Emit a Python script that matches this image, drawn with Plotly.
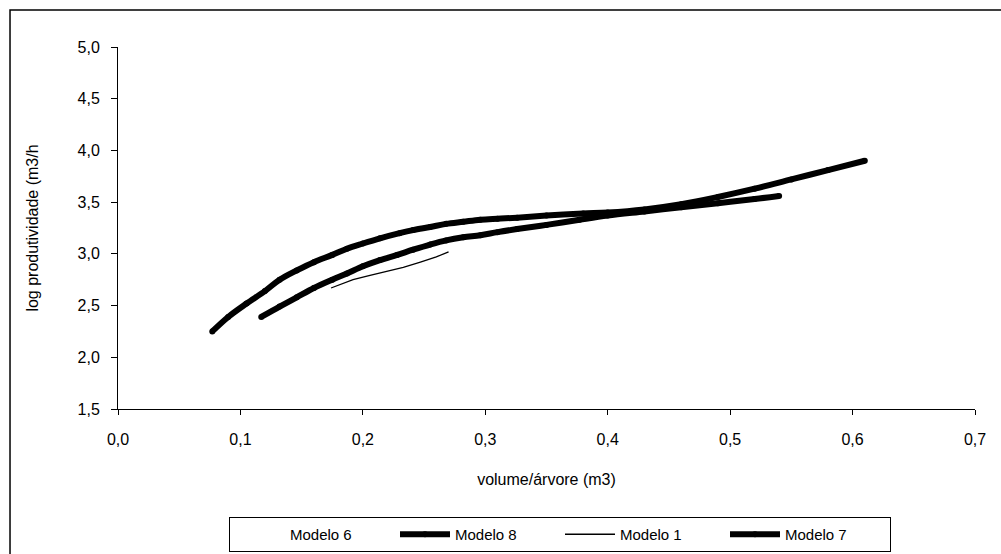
import plotly.graph_objects as go

# ---- data ----
m8_x = [0.077, 0.090, 0.105, 0.120, 0.132, 0.146, 0.160, 0.175, 0.187, 0.200, 0.214, 0.230,
        0.241, 0.255, 0.268, 0.282, 0.296, 0.310, 0.326, 0.350, 0.380, 0.400, 0.430, 0.460,
        0.490, 0.520, 0.550, 0.580, 0.610]
m8_y = [2.25, 2.39, 2.52, 2.64, 2.75, 2.84, 2.92, 2.99, 3.05, 3.10, 3.15, 3.20,
        3.23, 3.26, 3.29, 3.31, 3.33, 3.34, 3.35, 3.37, 3.39, 3.40, 3.43, 3.48,
        3.55, 3.63, 3.72, 3.81, 3.90]

m7_x = [0.117, 0.132, 0.146, 0.160, 0.175, 0.187, 0.200, 0.214, 0.228, 0.241, 0.255, 0.268,
        0.282, 0.296, 0.310, 0.326, 0.350, 0.377, 0.400, 0.430, 0.460, 0.490, 0.520, 0.540]
m7_y = [2.39, 2.49, 2.58, 2.67, 2.75, 2.81, 2.88, 2.94, 2.99, 3.04, 3.09, 3.13,
        3.16, 3.18, 3.21, 3.24, 3.28, 3.33, 3.37, 3.41, 3.45, 3.49, 3.53, 3.56]

m1_x = [0.174, 0.183, 0.192, 0.205, 0.219, 0.233, 0.247, 0.260, 0.270]
m1_y = [2.67, 2.71, 2.75, 2.79, 2.83, 2.87, 2.92, 2.97, 3.02]

x_ticks = [0.0, 0.1, 0.2, 0.3, 0.4, 0.5, 0.6, 0.7]
y_ticks = [1.5, 2.0, 2.5, 3.0, 3.5, 4.0, 4.5, 5.0]

FONT = "Arial, Liberation Sans, sans-serif"

fig = go.Figure()
fig.add_trace(go.Scatter(x=[None], y=[None], mode="lines", name="Modelo 6",
                         line=dict(color="rgba(255,255,255,0)", width=1)))
fig.add_trace(go.Scatter(x=m8_x, y=m8_y, mode="lines+markers", name="Modelo 8",
                         line=dict(color="black", width=6, shape="spline"),
                         marker=dict(color="black", size=6, symbol="circle")))
fig.add_trace(go.Scatter(x=m1_x, y=m1_y, mode="lines", name="Modelo 1",
                         line=dict(color="black", width=1.3)))
fig.add_trace(go.Scatter(x=m7_x, y=m7_y, mode="lines+markers", name="Modelo 7",
                         line=dict(color="black", width=6, shape="spline"),
                         marker=dict(color="black", size=6, symbol="circle")))

fig.update_layout(
    width=1001, height=554,
    margin=dict(l=118, r=26, t=47, b=145),
    paper_bgcolor="white", plot_bgcolor="white",
    separators=",.",
    font=dict(family=FONT, size=16, color="black"),
    showlegend=True,
    legend=dict(orientation="h", xref="container", yref="container",
                x=229 / 1001, xanchor="left", y=1 - 517 / 554, yanchor="top",
                bordercolor="black", borderwidth=1, bgcolor="white",
                font=dict(family=FONT, size=15, color="black"),
                itemwidth=50, entrywidth=100, tracegroupgap=0,
                itemclick=False),
    xaxis=dict(range=[0, 0.7], tickvals=x_ticks, tickformat=".1f",
               showgrid=False, zeroline=False, showline=True, linecolor="black",
               linewidth=1, ticks="outside", ticklen=5, tickcolor="black",
               ticklabelstandoff=11, automargin=False,
               tickfont=dict(family=FONT, size=16),
               title=dict(text="volume/árvore (m3)", standoff=26,
                          font=dict(family=FONT, size=16))),
    yaxis=dict(range=[1.5, 5.0], tickvals=y_ticks, tickformat=".1f",
               showgrid=False, zeroline=False, showline=True, linecolor="black",
               linewidth=1, ticks="outside", ticklen=6, tickcolor="black",
               ticklabelstandoff=8, automargin=False,
               tickfont=dict(family=FONT, size=16),
               title=dict(text="log produtividade (m3/h", standoff=34,
                          font=dict(family=FONT, size=16))),
    shapes=[dict(type="rect", xref="paper", yref="paper",
                 x0=-0.126, x1=1.2, y0=-0.5, y1=1.102,
                 line=dict(color="black", width=1.5), fillcolor="rgba(0,0,0,0)",
                 layer="below")],
)

fig.write_html("out.html")
